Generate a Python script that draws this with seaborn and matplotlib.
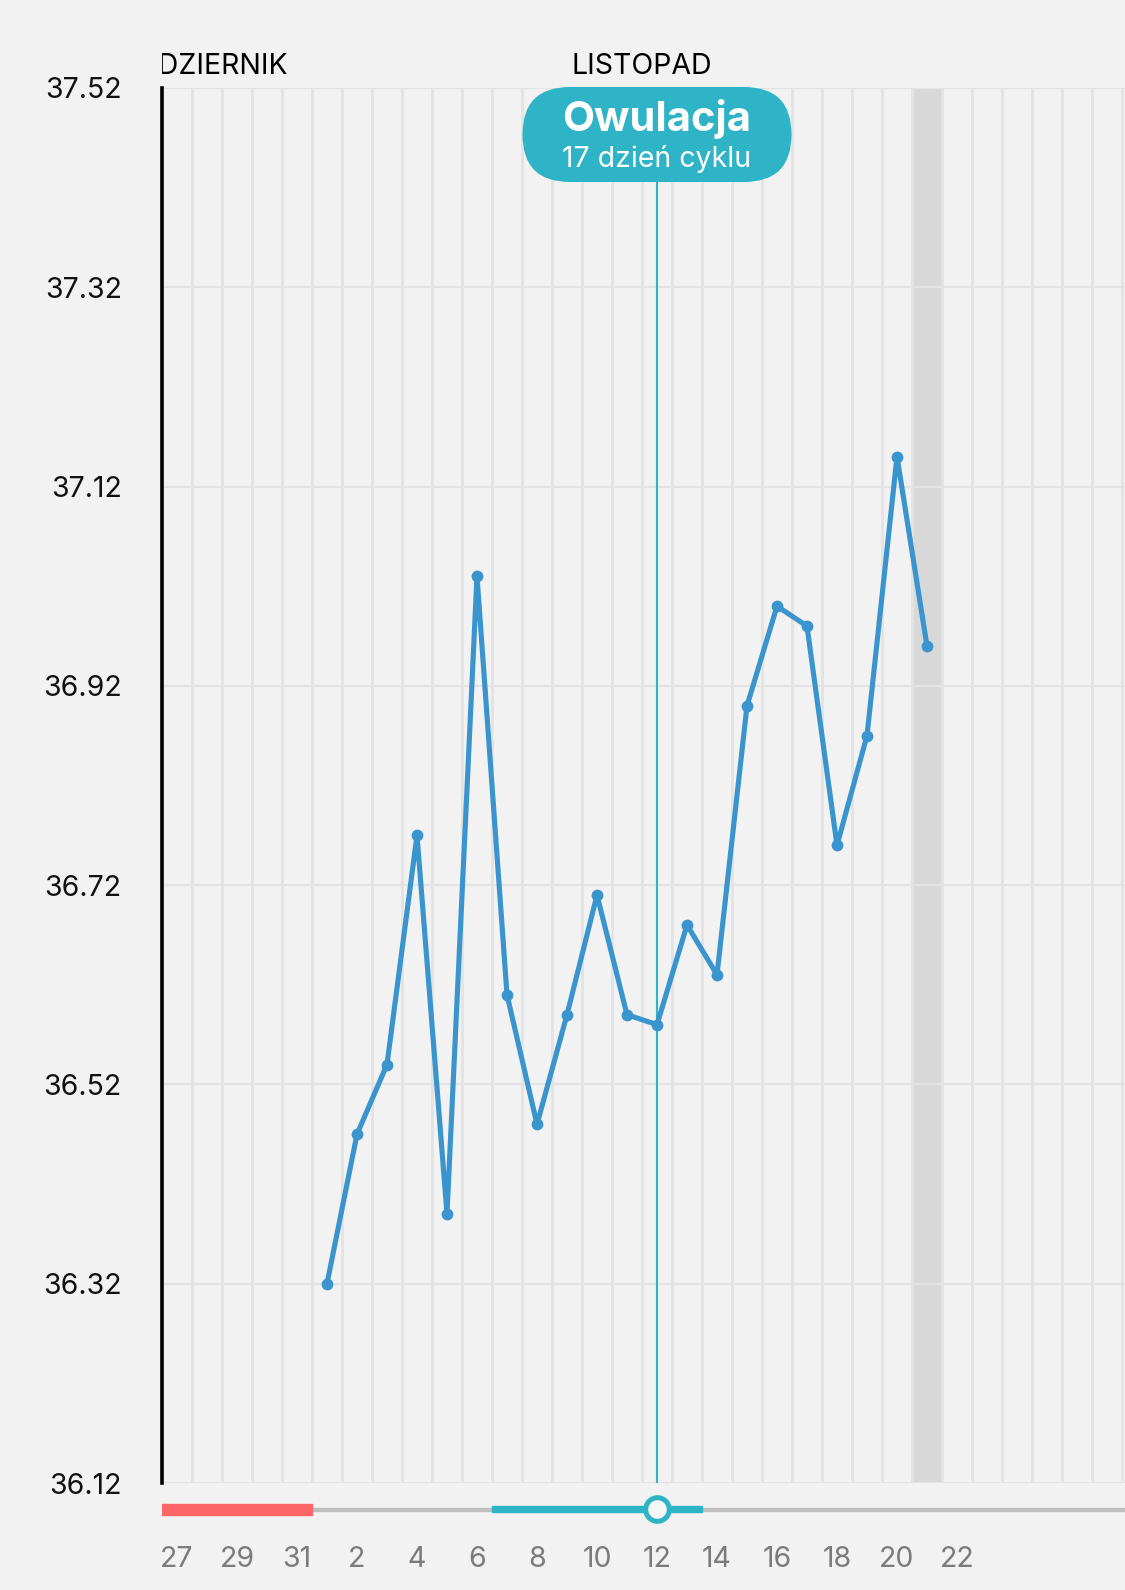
import matplotlib
matplotlib.use("Agg")
import matplotlib.pyplot as plt
from matplotlib import transforms
from matplotlib.patches import FancyBboxPatch
import seaborn as sns

# column 0 = 27 Oct, one column per day
day_labels = ["27", "28", "29", "30", "31", "1", "2", "3", "4", "5", "6", "7", "8", "9",
              "10", "11", "12", "13", "14", "15", "16", "17", "18", "19", "20", "21", "22"]
temp_days = [5, 6, 7, 8, 9, 10, 11, 12, 13, 14, 15, 16, 17, 18, 19, 20, 21, 22, 23, 24, 25]
temps = [36.32, 36.47, 36.54, 36.77, 36.39, 37.03, 36.61, 36.48, 36.59, 36.71, 36.59,
         36.58, 36.68, 36.63, 36.90, 37.00, 36.98, 36.76, 36.87, 37.15, 36.96]
y_ticks = [36.12, 36.32, 36.52, 36.72, 36.92, 37.12, 37.32, 37.52]
months = ["PAŹDZIERNIK", "LISTOPAD"]
month_pos = [3.7, 15.5]   # PAŹDZIERNIK right edge, LISTOPAD centre
period = (0, 5)           # first day, length
fertile = (11, 7)
ovulation_day = 16
today = 25
n_cols = 32.1

BG = "#f2f2f2"
LINE = "#3a94cd"
TEAL = "#2eb4c6"

sns.set_style("white", {"axes.facecolor": BG, "figure.facecolor": BG})
plt.rcParams["font.family"] = ["Inter", "DejaVu Sans"]

W, H = 1125, 1590
fig = plt.figure(figsize=(W / 100, H / 100), dpi=100)
L = 162 / W
ax = fig.add_axes([L, 1 - 1483 / H, 1 - L, (1483 - 88) / H])

ax.axvspan(today - 0.5, today + 0.5, color="#d8d8d8", lw=0, zorder=0.5)
ax.axvline(ovulation_day, color=TEAL, lw=1.5, zorder=1.5)

sns.lineplot(x=temp_days, y=temps, ax=ax, color=LINE, lw=3.7, marker="o",
             markersize=8.5, markeredgewidth=0, zorder=3)

# ovulation bubble, sized in inches, anchored to the ovulation day at the top of the axes
anchor = transforms.ScaledTranslation(
    ovulation_day, 1.0, transforms.blended_transform_factory(ax.transData, ax.transAxes))
trans = fig.dpi_scale_trans + anchor
bw, bh = 2.69, 0.95
ax.add_patch(FancyBboxPatch((-bw / 2, -bh + 0.01), bw, bh,
                            boxstyle=f"round,pad=0,rounding_size={bh / 2}",
                            fc=TEAL, ec="none", transform=trans, zorder=5, clip_on=False))
ax.text(0, -0.31, "Owulacja", transform=trans, ha="center", va="center",
        color="white", fontsize=30, fontweight="bold", zorder=6)
ax.text(0, -0.71, "17 dzień cyklu", transform=trans, ha="center", va="center",
        color="white", fontsize=20.5, zorder=6)

# axes styling
ax.set_ylim(y_ticks[0], y_ticks[-1])
ax.set_xlim(-0.5, n_cols - 0.5)
ax.set_yticks(y_ticks)
ax.set_yticklabels([f"{t:.2f}" for t in y_ticks])
ax.set_xticks(range(0, len(day_labels), 2))
ax.set_xticklabels(day_labels[::2])
ax.set_xticks([i - 0.5 for i in range(int(n_cols) + 1)], minor=True)
ax.grid(which="minor", axis="x", color="#e3e3e3", lw=2)
ax.grid(which="major", axis="y", color="#e3e3e3", lw=1.6)
ax.set_axisbelow(True)
ax.tick_params(axis="y", length=19, width=2.2, color="black", pad=10,
               labelsize=20.5, labelcolor="#111111")
ax.tick_params(axis="x", which="both", length=0, pad=45.5, labelsize=20.5, labelcolor="#7b7b7b")
for s in ["top", "right", "bottom"]:
    ax.spines[s].set_visible(False)
ax.spines["left"].set_color("black")
ax.spines["left"].set_linewidth(2.6)
ax.set_xlabel("")
ax.set_ylabel("")

# month header strip
hdr = fig.add_axes([L, 1 - 88 / H, 1 - L, 44 / H], sharex=ax)
hdr.set_axis_off()
hdr.set_ylim(0, 1)
hdr.text(month_pos[0], 0.5, months[0], ha="right", va="center", fontsize=20.5,
         color="black", clip_on=True)
hdr.text(month_pos[1], 0.5, months[1], ha="center", va="center", fontsize=20.5,
         color="black", clip_on=True)

# cycle phase strip
bar = fig.add_axes([L, 1 - 1529 / H, 1 - L, 40 / H], sharex=ax)
bar.set_axis_off()
bar.patch.set_visible(False)
bar.set_ylim(-20, 20)
bar.broken_barh([(-0.5, n_cols)], (-1.5, 3), color="#bfbfbf")
bar.broken_barh([(period[0] - 0.5, period[1])], (-5.5, 11), color="#fd6666")
bar.broken_barh([(fertile[0] - 0.5, fertile[1])], (-3, 6), color=TEAL)
bar.plot([ovulation_day], [0], marker="o", ms=17, mew=3.6, mec=TEAL, mfc="#f6f6f6",
         clip_on=False)
ax.set_xlim(-0.5, n_cols - 0.5)

fig.savefig("out.png", dpi=100, facecolor=BG)
